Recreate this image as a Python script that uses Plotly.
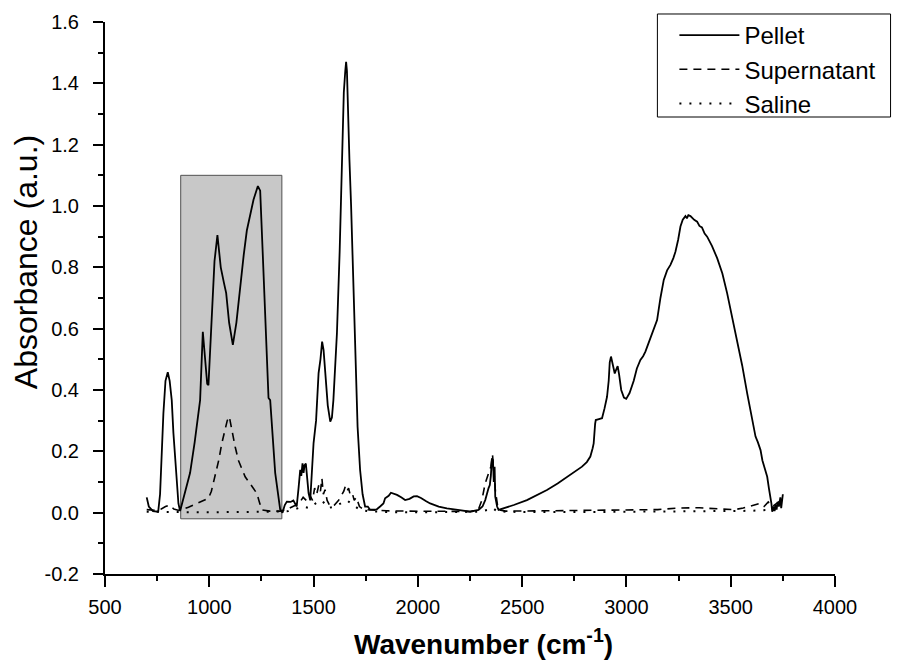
import plotly.graph_objects as go

# ---- data ----
pellet_x = [700, 710, 730, 755, 764, 772, 780, 790, 801, 810, 820, 828, 836, 845, 852, 860, 880, 908, 930, 956,
            969, 978, 990,
            996, 1010, 1025, 1039, 1055, 1070, 1081, 1095, 1113, 1130, 1148, 1165, 1180, 1196, 1212, 1233, 1244,
            1256, 1268, 1280, 1284, 1292, 1304, 1316, 1330, 1340, 1351, 1362, 1372, 1390, 1403, 1419, 1428, 1436,
            1441, 1447, 1452, 1457, 1463, 1470, 1476, 1484, 1492, 1500, 1512, 1524, 1533, 1541, 1548, 1555, 1568,
            1580, 1588, 1595, 1604, 1612, 1625, 1635, 1642, 1645, 1652, 1656, 1660, 1665, 1672, 1680, 1690, 1700,
            1711, 1723, 1735, 1747, 1760, 1770, 1790, 1803, 1819, 1835, 1843, 1860, 1871, 1885, 1900, 1920, 1939,
            1960, 1980, 1996, 2015, 2040, 2059, 2100, 2139, 2200, 2251, 2291, 2310, 2323, 2333, 2339, 2345, 2350,
            2355, 2360, 2364, 2368, 2371, 2380, 2387, 2411, 2460, 2523, 2570, 2619, 2670, 2715, 2750, 2787, 2810,
            2827, 2838, 2843, 2850, 2853, 2868, 2883, 2895, 2907, 2915, 2920, 2926, 2935, 2944, 2950, 2958, 2965,
            2975, 2988, 2999, 3015, 3035, 3050, 3067, 3080, 3091, 3110, 3130, 3147, 3163, 3179, 3195, 3211, 3225,
            3235, 3248, 3259, 3270, 3283, 3290, 3297, 3307, 3315, 3325, 3339, 3350, 3362, 3375, 3387, 3410, 3435,
            3460, 3483, 3507, 3531, 3555, 3579, 3600, 3619, 3630, 3643, 3652, 3660, 3675, 3683, 3691, 3695, 3699,
            3705, 3710, 3715, 3720, 3725, 3731, 3738, 3742, 3747, 3750]
pellet_y = [0.05, 0.02, 0.005, 0.003, 0.06, 0.2, 0.324, 0.43, 0.458, 0.43, 0.367, 0.26, 0.17, 0.07, 0.03, 0.005,
            0.06, 0.13, 0.23,
            0.367, 0.59, 0.52, 0.42, 0.416, 0.6, 0.82, 0.905, 0.8, 0.75, 0.716, 0.62, 0.547, 0.62, 0.737, 0.84,
            0.92, 0.97, 1.02, 1.065, 1.05, 0.85, 0.66, 0.42, 0.374, 0.367, 0.25, 0.13, 0.06, 0.01, 0.0, 0.025,
            0.036, 0.035, 0.04, 0.02, 0.08, 0.14, 0.12, 0.161, 0.13, 0.155, 0.16, 0.1, 0.064, 0.04, 0.12, 0.227,
            0.3, 0.455, 0.5, 0.558, 0.53, 0.476, 0.35, 0.297, 0.31, 0.367, 0.47, 0.585, 0.85, 1.1, 1.34, 1.37,
            1.44, 1.47, 1.44, 1.3, 1.15, 1.0, 0.75, 0.5, 0.28, 0.14, 0.06, 0.02, 0.02, 0.01, 0.012, 0.011, 0.02,
            0.03, 0.047, 0.055, 0.065, 0.062, 0.058, 0.05, 0.041, 0.045, 0.053, 0.054, 0.048, 0.037, 0.03, 0.02,
            0.014, 0.008, 0.003, 0.009, 0.02, 0.041, 0.07, 0.08, 0.09, 0.12, 0.177, 0.172, 0.1, 0.15, 0.052, 0.02,
            0.009, 0.014, 0.025, 0.041, 0.056, 0.074, 0.095, 0.117, 0.132, 0.15, 0.165, 0.183, 0.21, 0.226, 0.29,
            0.302, 0.305, 0.308, 0.34, 0.378, 0.43, 0.49, 0.509, 0.48, 0.454, 0.465, 0.478, 0.45, 0.4, 0.375,
            0.371, 0.39, 0.43, 0.47, 0.498, 0.51, 0.525, 0.56, 0.6, 0.628, 0.7, 0.759, 0.79, 0.808, 0.83, 0.851,
            0.89, 0.933, 0.955, 0.967, 0.96, 0.97, 0.967, 0.96, 0.955, 0.949, 0.935, 0.93, 0.91, 0.9, 0.87, 0.83,
            0.78, 0.715, 0.64, 0.563, 0.48, 0.389, 0.31, 0.248, 0.23, 0.204, 0.17, 0.15, 0.117, 0.08, 0.052, 0.03,
            0.003, 0.02, 0.005, 0.025, 0.01, 0.035, 0.02, 0.05, 0.015, 0.058, 0.06]

super_x = [700, 740, 770, 790, 810, 830, 850, 870, 900, 924, 960, 996, 1010, 1028, 1045, 1060, 1075, 1086, 1096,
           1105, 1114, 1124, 1140, 1156, 1172, 1190, 1210, 1228, 1240, 1252, 1290, 1340, 1370, 1400, 1430, 1450,
           1465, 1480, 1495, 1505, 1515, 1525, 1533, 1540, 1547, 1555, 1565, 1580, 1600, 1620, 1635, 1645, 1652,
           1660, 1668, 1675, 1685, 1695, 1705, 1720, 1740, 1780, 1850, 1950, 2050, 2150, 2250, 2290, 2307, 2323,
           2339, 2350, 2358, 2365, 2372, 2385, 2420, 2600, 2800, 3000, 3150, 3250, 3350, 3450, 3520, 3560, 3590,
           3620, 3640, 3660, 3680, 3700, 3720, 3740, 3750]
super_y = [0.01, 0.008, 0.012, 0.02, 0.025, 0.012, 0.008, 0.01, 0.018, 0.025, 0.035, 0.047, 0.07, 0.117, 0.17,
           0.226, 0.27, 0.3, 0.313, 0.28, 0.24, 0.215, 0.17, 0.14, 0.117, 0.1, 0.08, 0.063, 0.035, 0.009, 0.005,
           0.005, 0.01, 0.02, 0.03, 0.05, 0.04, 0.06, 0.04, 0.08, 0.06, 0.09, 0.07, 0.112, 0.06, 0.075, 0.04,
           0.02, 0.025, 0.04, 0.06, 0.07, 0.085, 0.07, 0.08, 0.06, 0.065, 0.04, 0.05, 0.02, 0.01, 0.008, 0.006,
           0.005, 0.004, 0.003, 0.004, 0.01, 0.041, 0.096, 0.128, 0.15, 0.188, 0.12, 0.07, 0.01, 0.005, 0.006,
           0.007, 0.008, 0.01, 0.015, 0.016, 0.012, 0.01, 0.015, 0.02, 0.025, 0.03, 0.02, 0.035, 0.02, 0.03, 0.04,
           0.045]

saline_x = [700, 800, 900, 1000, 1100, 1200, 1300, 1380, 1420, 1450, 1480, 1510, 1540, 1570, 1600, 1630, 1660,
            1690, 1720, 1760, 1850, 2000, 2200, 2300, 2340, 2360, 2380, 2500, 2800, 3100, 3400, 3600, 3700, 3750]
saline_y = [0.003, 0.002, 0.001, 0.001, 0.002, 0.002, 0.003, 0.005, 0.015, 0.02, 0.015, 0.03, 0.04, 0.015, 0.02,
            0.03, 0.04, 0.025, 0.01, 0.005, 0.002, 0.001, 0.001, 0.003, 0.01, 0.015, 0.004, 0.002, 0.002, 0.003,
            0.004, 0.006, 0.01, 0.015]

x_ticks = [500, 1000, 1500, 2000, 2500, 3000, 3500, 4000]
y_ticks = [-0.2, 0.0, 0.2, 0.4, 0.6, 0.8, 1.0, 1.2, 1.4, 1.6]
box_x = [863, 1348]
box_y = [-0.02, 1.1]

SANS = "Liberation Sans, Arial, sans-serif"

fig = go.Figure()
fig.add_trace(go.Scatter(x=pellet_x, y=pellet_y, mode="lines", name="Pellet",
                         line=dict(color="black", width=1.8)))
fig.add_trace(go.Scatter(x=super_x, y=super_y, mode="lines", name="Supernatant",
                         line=dict(color="black", width=1.6, dash="8px,6px")))
fig.add_trace(go.Scatter(x=saline_x, y=saline_y, mode="lines", name="Saline",
                         line=dict(color="black", width=2, dash="2px,8px")))

fig.add_shape(type="rect", xref="x", yref="y", x0=box_x[0], x1=box_x[1], y0=box_y[0], y1=box_y[1],
              fillcolor="#c8c8c8", line=dict(color="#505050", width=1), layer="below")

# legend frame (drawn as a shape so the entries can sit inset like the reference)
fig.add_shape(type="rect", xref="paper", yref="paper", x0=0.7567, x1=1.0761, y0=0.8074, y1=0.9894,
              fillcolor="white", line=dict(color="black", width=1), layer="above")

# axis titles as annotations so they can sit exactly where the reference has them
fig.add_annotation(text="<b>Wavenumber (cm<sup>-1</sup>)</b>", xref="paper", yref="paper",
                   x=0.518, y=-0.1201, xanchor="center", yanchor="middle", showarrow=False,
                   font=dict(family=SANS, size=28, color="black"))
fig.add_annotation(text="Absorbance (a.u.)", xref="paper", yref="paper", textangle=-90,
                   x=-0.108, y=0.5512, xanchor="center", yanchor="middle", showarrow=False,
                   font=dict(family=SANS, size=32, color="black"))

# the page body adds an 8px offset, so the figure is 8px smaller and margins shifted;
# top margin is 0 and the y domain leaves room so the legend never pushes the margins
fig.update_layout(
    width=892, height=653,
    margin=dict(l=97, r=65, t=0, b=87),
    paper_bgcolor="white", plot_bgcolor="white",
    showlegend=True,
    legend=dict(x=0.780, y=0.9912, xanchor="left", yanchor="top",
                borderwidth=0, bgcolor="rgba(0,0,0,0)",
                font=dict(family=SANS, size=24, color="black"),
                itemwidth=60, tracegroupgap=0),
    xaxis=dict(range=[500, 4000], tickvals=x_ticks, ticktext=[str(v) for v in x_ticks],
               automargin=False,
               showgrid=False, zeroline=False, showline=True, linecolor="black", linewidth=2,
               ticks="outside", ticklen=11, tickwidth=2, tickcolor="black", ticklabelstandoff=3,
               minor=dict(dtick=250, ticks="outside", ticklen=5, tickwidth=2, tickcolor="black", showgrid=False),
               tickfont=dict(family=SANS, size=20, color="black")),
    yaxis=dict(range=[-0.2, 1.6], tickvals=y_ticks, ticktext=[f"{v:.1f}" for v in y_ticks],
               automargin=False, domain=[0, 0.9753],
               showgrid=False, zeroline=False, showline=True, linecolor="black", linewidth=2,
               ticks="outside", ticklen=10, tickwidth=2, tickcolor="black", ticklabelstandoff=10,
               minor=dict(dtick=0.1, ticks="outside", ticklen=5, tickwidth=2, tickcolor="black", showgrid=False),
               tickfont=dict(family=SANS, size=20, color="black")),
)

fig.write_html("out.html")
